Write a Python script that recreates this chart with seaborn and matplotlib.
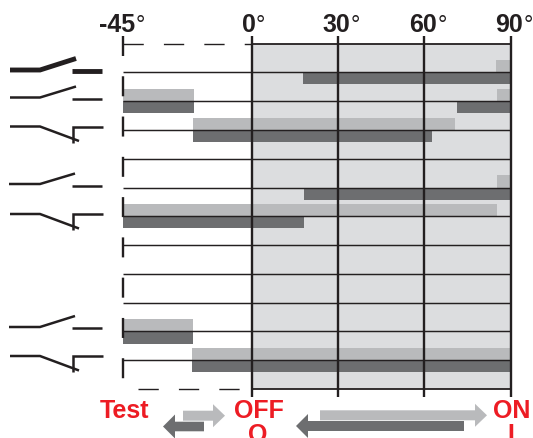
import matplotlib
matplotlib.use("Agg")
import matplotlib.pyplot as plt
import pandas as pd
import seaborn as sns
from matplotlib.patches import Polygon

# row index, start angle, end angle
light_bars = [(1, 85, 90), (2, -45, -20), (2, 85.2, 90), (3, -20.5, 70.6), (5, 85.2, 90),
              (6, -45, 85.2), (10, -45, -20.5), (11, -21, 90)]
dark_bars = [(1, 17.8, 90), (2, -45, -20), (2, 71.4, 90), (3, -20.5, 62.5), (5, 18.1, 90),
             (6, -45, 18), (10, -45, -20.5), (11, -21, 90)]
rows = list(range(13))
row_lines = [1, 2, 3, 4, 5, 6, 7, 8, 9, 10, 11]
angles = [0, 30, 60, 90]
tick_labels = ["-45", "0", "30", "60", "90"]

LIGHT = "#B9BABC"
DARK = "#6D6E70"
PANEL = "#DCDDDF"
INK = "#231F20"
RED = "#ED1C24"

sns.set_theme(style="white", rc={"lines.scale_dashes": False})
plt.rcParams["font.family"] = ["Liberation Sans", "DejaVu Sans"]

fig = plt.figure(figsize=(5.33, 4.39), dpi=100)
ax = fig.add_axes([0, 0, 1, 1])

palette = {"light": LIGHT, "dark": DARK}
segments = [("light", b) for b in light_bars] + [("dark", b) for b in dark_bars]
for kind, (row, start, end) in segments:
    df = pd.DataFrame({"row": [row], "span": [end - start], "kind": [kind]})
    sns.barplot(data=df, x="span", y="row", hue="kind", hue_order=["light", "dark"], order=rows,
                orient="h", palette=palette, left=start, width=0.84, dodge=True, gap=0,
                saturation=1, errorbar=None, legend=False, linewidth=0, zorder=1, ax=ax)

ax.set_xlim(-87.65, 97.74)
ax.set_ylim(13.70, -1.55)
ax.axis("off")
ax.fill_between([0, 90], 0, 12, color=PANEL, lw=0, zorder=0)

for r in row_lines:
    ax.plot([-45, 90], [r, r], color=INK, lw=1.05, solid_capstyle="butt", zorder=2)
ax.plot([0, 90], [0, 0], color=INK, lw=1.3, solid_capstyle="butt", zorder=2)
ax.plot([0, 90], [12, 12], color=INK, lw=1.3, solid_capstyle="butt", zorder=2)
for a in angles:
    ax.plot([a, a], [-0.28, 12.26], color=INK, lw=1.7, solid_capstyle="butt", zorder=3)

# dashed frame on the test side
ax.plot([-45, 0], [0, 0], color=INK, lw=1.0, dashes=(14.6, 14.5), zorder=2)
ax.plot([-39.8, 0], [12, 12], color=INK, lw=1.0, dashes=(14.6, 14.5), zorder=2)
ax.plot([-45, -45], [-0.25, 11.75], color=INK, lw=1.7, dashes=(14.4, 14.6), zorder=3)

# overlay in pixel coordinates for the switch symbols, labels and arrows
ov = fig.add_axes([0, 0, 1, 1], facecolor="none")
ov.set_xlim(0, 533)
ov.set_ylim(439, 0)
ov.axis("off")

switch_paths = [
    ([(10, 71), (40, 71), (76, 59.5)], [(72, 72), (102, 72)], 3.5),
    ([(10, 98.5), (40, 98.5), (76, 87.5)], [(72, 99.5), (102, 99.5)], 1.8),
    ([(10, 127.5), (40, 127.5), (79, 142)], [(73, 144), (73, 127.5), (103, 127.5)], 1.8),
    ([(9, 185), (40, 185), (75, 174.5)], [(72, 187), (102, 187)], 1.8),
    ([(10, 215), (40, 215), (79, 229.5)], [(73, 231), (73, 215), (103, 215)], 1.8),
    ([(9, 328), (40, 328), (75, 317)], [(72, 329), (102, 329)], 1.8),
    ([(10, 357), (40, 357), (79, 371.5)], [(73, 373), (73, 357), (103, 357)], 1.8),
]
for blade, contact, lw in switch_paths:
    for path in (blade, contact):
        xs, ys = zip(*path)
        ov.plot(xs, ys, color=INK, lw=lw, solid_joinstyle="miter", solid_capstyle="butt")

label_right = [135, 255.5, 350, 437, 523]
for right, lab in zip(label_right, tick_labels):
    ov.text(right, 32, lab, ha="right", va="baseline", fontsize=18, fontweight="bold", color=INK)
    ov.text(right + 0.5, 32, "\u00b0", ha="left", va="baseline", fontsize=17, color=INK)

ov.text(124, 418.5, "Test", ha="center", va="baseline", fontsize=18, fontweight="bold", color=RED)
ov.text(259, 418.5, "OFF", ha="center", va="baseline", fontsize=18, fontweight="bold", color=RED)
ov.text(258, 442, "O", ha="center", va="baseline", fontsize=18, fontweight="bold", color=RED)
ov.text(512, 418.5, "ON", ha="center", va="baseline", fontsize=18, fontweight="bold", color=RED)
ov.text(511, 442, "I", ha="center", va="baseline", fontsize=18, fontweight="bold", color=RED)


def arrow(tail, base, tip, cy, half_shaft, half_head, color):
    pts = [(tail, cy - half_shaft), (base, cy - half_shaft), (base, cy - half_head), (tip, cy),
           (base, cy + half_head), (base, cy + half_shaft), (tail, cy + half_shaft)]
    ov.add_patch(Polygon(pts, closed=True, facecolor=color, edgecolor="none"))


arrow(183, 213, 225, 416.7, 5, 11.5, LIGHT)
arrow(204, 175, 163, 427.5, 4.8, 12, DARK)
arrow(320, 475, 487, 416.3, 5, 11.5, LIGHT)
arrow(464, 308, 296, 427, 5, 12, DARK)

fig.savefig("out.png", dpi=100)
